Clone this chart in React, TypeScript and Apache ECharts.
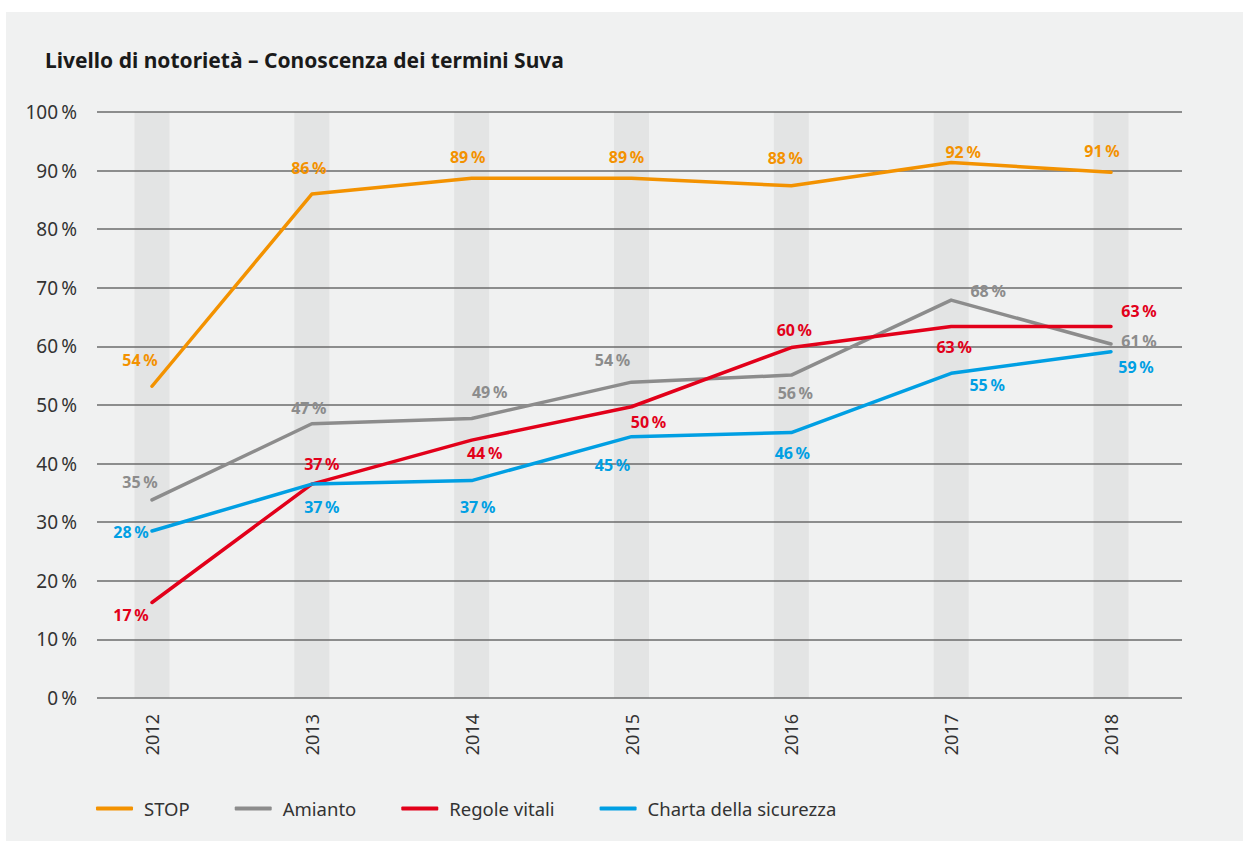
import React, { useEffect, useRef } from "react";
import * as echarts from "echarts";

const titleText = "Livello di notorietà – Conoscenza dei termini Suva";
const years = ["2012", "2013", "2014", "2015", "2016", "2017", "2018"];
const seriesNames = ["STOP", "Amianto", "Regole vitali", "Charta della sicurezza"];
const stopValues = [53.2, 86.0, 88.7, 88.7, 87.4, 91.4, 89.7];
const amiantoValues = [33.8, 46.8, 47.7, 53.9, 55.1, 67.9, 60.4];
const regoleValues = [16.3, 36.5, 44.0, 49.7, 59.8, 63.4, 63.4];
const chartaValues = [28.5, 36.5, 37.1, 44.6, 45.3, 55.4, 59.1];
const stopLabels = [54, 86, 89, 89, 88, 92, 91];
const amiantoLabels = [35, 47, 49, 54, 56, 68, 61];
const regoleLabels = [17, 37, 44, 50, 60, 63, 63];
const chartaLabels = [28, 37, 37, 45, 46, 55, 59];
const yMin = 0;
const yMax = 100;
const yStep = 10;
const bandValue = 100;

// label placement (style, not data)
const stopOffsets = [[-12, -26], [-3, -26], [-4, -21], [-5, -21], [-6, -28], [12, -10], [-9, -21]];
const amiantoOffsets = [[-12, -18], [-3, -16], [18, -26], [-19, -22], [4, 18], [37, -9], [28, -3]];
const regoleOffsets = [[-21, 13], [10, -20], [13, 13], [17, 15], [3, -18], [3, 21], [28, -15]];
const chartaOffsets = [[-21, 1], [10, 23], [6, 26], [-19, 28], [1, 20], [36, 12], [25, 15]];

const colors = ["#f39200", "#8c8c8c", "#e2001a", "#009fe3"];
const FONT = "'Noto Sans', 'Open Sans', sans-serif";

function lineSeries(name: string, values: number[], labels: number[], offsets: number[][], color: string) {
  return {
    name,
    type: "line",
    xAxisIndex: 1,
    yAxisIndex: 1,
    data: values.map((v, i) => ({
      value: v,
      label: {
        show: true,
        position: "inside",
        offset: offsets[i],
        align: "center",
        verticalAlign: "middle",
        formatter: labels[i] + "\u2009%",
        color,
        fontFamily: FONT,
        fontWeight: "bold",
        fontSize: 16,
      },
    })),
    symbol: "circle",
    symbolSize: 1,
    showSymbol: true,
    itemStyle: { color },
    lineStyle: { color, width: 3.5, cap: "round", join: "round" },
    z: 5,
  };
}

export default function App() {
  const ref = useRef<HTMLDivElement>(null);
  useEffect(() => {
    if (!ref.current) return;
    const chart = echarts.init(ref.current, undefined, { renderer: "svg" });
    const option: any = {
      animation: false,
      backgroundColor: "#ffffff",
      color: colors,
      graphic: [
        {
          type: "rect",
          shape: { x: 6, y: 12, width: 1237, height: 829 },
          style: { fill: "#f0f1f1" },
          z: -10,
          silent: true,
        },
      ],
      title: {
        text: titleText,
        left: 40,
        top: 44,
        textStyle: { fontFamily: FONT, fontWeight: "bold", fontSize: 21, color: "#1a1a1a" },
      },
      legend: {
        data: seriesNames,
        left: 91,
        top: 794,
        icon: "roundRect",
        itemWidth: 37,
        itemHeight: 4,
        itemGap: 45,
        textStyle: { fontFamily: FONT, fontSize: 18.5, color: "#333333", padding: [0, 0, 0, 6] },
        selectedMode: false,
      },
      grid: [
        { left: 97, right: 67, top: 112, bottom: 143 },
        { left: 152, right: 138, top: 112, bottom: 143 },
      ],
      xAxis: [
        { type: "category", gridIndex: 0, data: years, show: false },
        {
          type: "category",
          gridIndex: 1,
          data: years,
          boundaryGap: false,
          axisLine: { show: false },
          axisTick: { show: false },
          axisLabel: { rotate: 90, margin: 16, fontFamily: FONT, fontSize: 18, color: "#333333" },
        },
      ],
      yAxis: [
        {
          type: "value",
          gridIndex: 0,
          min: yMin,
          max: yMax,
          interval: yStep,
          axisLine: { show: false },
          axisTick: { show: false },
          axisLabel: {
            margin: 20,
            fontFamily: FONT,
            fontSize: 19,
            color: "#333333",
            formatter: (v: number) => v + "\u2009%",
          },
          splitLine: { lineStyle: { color: "#6b6b6b", width: 1.6 } },
          z: 3,
        },
        { type: "value", gridIndex: 1, min: yMin, max: yMax, interval: yStep, show: false },
      ],
      series: [
        {
          name: "bands",
          type: "bar",
          xAxisIndex: 1,
          yAxisIndex: 1,
          data: years.map(() => bandValue),
          barWidth: 35,
          clip: false,
          silent: true,
          itemStyle: { color: "#e3e4e4" },
          z: 1,
        },
        lineSeries(seriesNames[0], stopValues, stopLabels, stopOffsets, colors[0]),
        lineSeries(seriesNames[1], amiantoValues, amiantoLabels, amiantoOffsets, colors[1]),
        lineSeries(seriesNames[2], regoleValues, regoleLabels, regoleOffsets, colors[2]),
        lineSeries(seriesNames[3], chartaValues, chartaLabels, chartaOffsets, colors[3]),
      ],
    };
    chart.setOption(option);
    return () => chart.dispose();
  }, []);
  return (
    <div
      ref={ref}
      style={{ position: "fixed", left: 0, top: 0, width: 1249, height: 841 }}
    />
  );
}
